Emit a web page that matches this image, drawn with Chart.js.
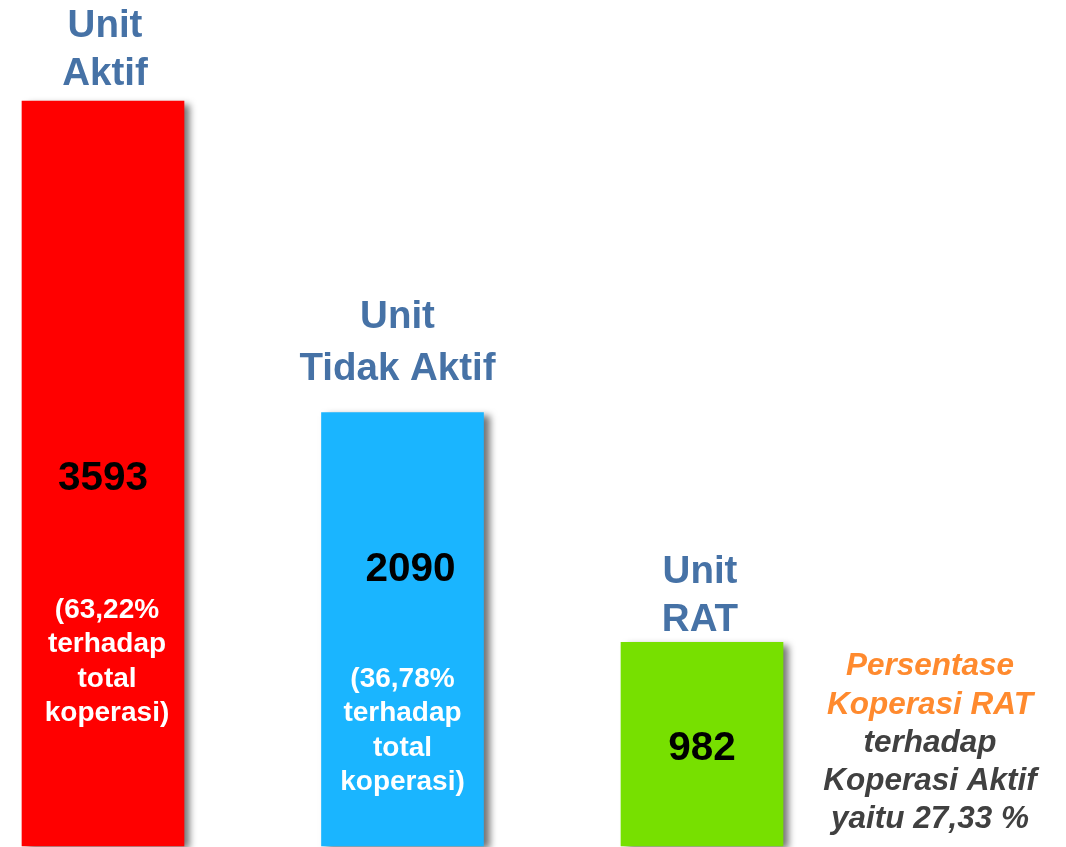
<!DOCTYPE html>
<html>
<head>
<meta charset="utf-8">
<script src="https://cdn.jsdelivr.net/npm/chart.js@4.4.1/dist/chart.umd.min.js"></script>
<style>
  html, body { margin: 0; padding: 0; background: #ffffff; }
  #wrap { width: 1066px; height: 847px; position: relative; }
</style>
</head>
<body>
<div id="wrap"><canvas id="c" width="1066" height="847"></canvas></div>
<script>
// ---- data ----
const categories = ['Unit Aktif', 'Unit Tidak Aktif', 'Unit RAT'];
const titleLines = [['Unit', 'Aktif'], ['Unit', 'Tidak Aktif'], ['Unit', 'RAT']];
const values = [3593, 2090, 982];
const valueLabels = ['3593', '2090', '982'];
const shareNotes = [
  ['(63,22%', 'terhadap', 'total', 'koperasi)'],
  ['(36,78%', 'terhadap', 'total', 'koperasi)'],
  []
];
const noteOrange = ['Persentase', 'Koperasi RAT'];
const noteGray = ['terhadap', 'Koperasi Aktif', 'yaitu 27,33 %'];
const barColors = ['#ff0000', '#1ab5ff', '#77e000'];

// ---- label placement (relative to each bar) ----
const labelCfg = {
  titleGap: [16, 33, 11],          // bar top -> last title baseline
  titleLH: [48, 52, 48],
  titleDx: [2, -5, -2],
  valueBase: [389, 168, 118],      // bar top -> value baseline
  valueDx: [0, 8, 0],
  noteBase: [517, 274, 0],         // bar top -> first note baseline
  noteDx: [4, 0, 0],
  noteLH: 34.5
};

const shadowPlugin = {
  id: 'barShadow',
  beforeDatasetDraw(chart) {
    const ctx = chart.ctx;
    ctx.save();
    ctx.shadowColor = 'rgba(0,0,0,0.55)';
    ctx.shadowBlur = 7;
    ctx.shadowOffsetX = 6;
    ctx.shadowOffsetY = 3;
  },
  afterDatasetDraw(chart) {
    chart.ctx.restore();
  }
};

const labelPlugin = {
  id: 'barLabels',
  afterDatasetsDraw(chart) {
    const ctx = chart.ctx;
    const meta = chart.getDatasetMeta(0);
    ctx.save();
    ctx.textAlign = 'center';
    ctx.textBaseline = 'alphabetic';
    meta.data.forEach((bar, i) => {
      const top = bar.y;
      const x = bar.x;
      // titles
      ctx.font = 'bold 38.5px "Liberation Sans", Arial, sans-serif';
      ctx.fillStyle = '#4672a6';
      const tl = titleLines[i];
      tl.forEach((line, k) => {
        const by = top - labelCfg.titleGap[i] - (tl.length - 1 - k) * labelCfg.titleLH[i];
        ctx.fillText(line, x + labelCfg.titleDx[i], by);
      });
      // value
      ctx.font = 'bold 40.5px "Liberation Sans", Arial, sans-serif';
      ctx.fillStyle = '#000000';
      ctx.fillText(valueLabels[i], x + labelCfg.valueDx[i], top + labelCfg.valueBase[i]);
      // share note
      ctx.font = 'bold 28px "Liberation Sans", Arial, sans-serif';
      ctx.fillStyle = '#ffffff';
      shareNotes[i].forEach((line, k) => {
        ctx.fillText(line, x + labelCfg.noteDx[i], top + labelCfg.noteBase[i] + k * labelCfg.noteLH);
      });
    });
    // side annotation next to the last bar
    const last = meta.data[meta.data.length - 1];
    const ax = last.x + 228;
    let ay = last.y + 33;
    ctx.font = 'italic bold 31.5px "Liberation Sans", Arial, sans-serif';
    ctx.fillStyle = '#ff8a2e';
    noteOrange.forEach(line => { ctx.fillText(line, ax, ay); ay += 38.5; });
    ctx.fillStyle = '#404040';
    noteGray.forEach(line => { ctx.fillText(line, ax, ay); ay += 38; });
    ctx.restore();
  }
};

new Chart(document.getElementById('c'), {
  type: 'bar',
  data: {
    labels: categories,
    datasets: [{
      data: values,
      backgroundColor: barColors,
      borderWidth: 0,
      barThickness: 162,
      clip: false
    }]
  },
  options: {
    responsive: false,
    animation: false,
    layout: { padding: { left: 103, right: 364, top: 0, bottom: 1 } },
    plugins: { legend: { display: false }, tooltip: { enabled: false } },
    scales: {
      x: { display: false, offset: false, grid: { display: false } },
      y: { display: false, min: 0, max: 4080, grid: { display: false } }
    }
  },
  plugins: [shadowPlugin, labelPlugin]
});
</script>
</body>
</html>
